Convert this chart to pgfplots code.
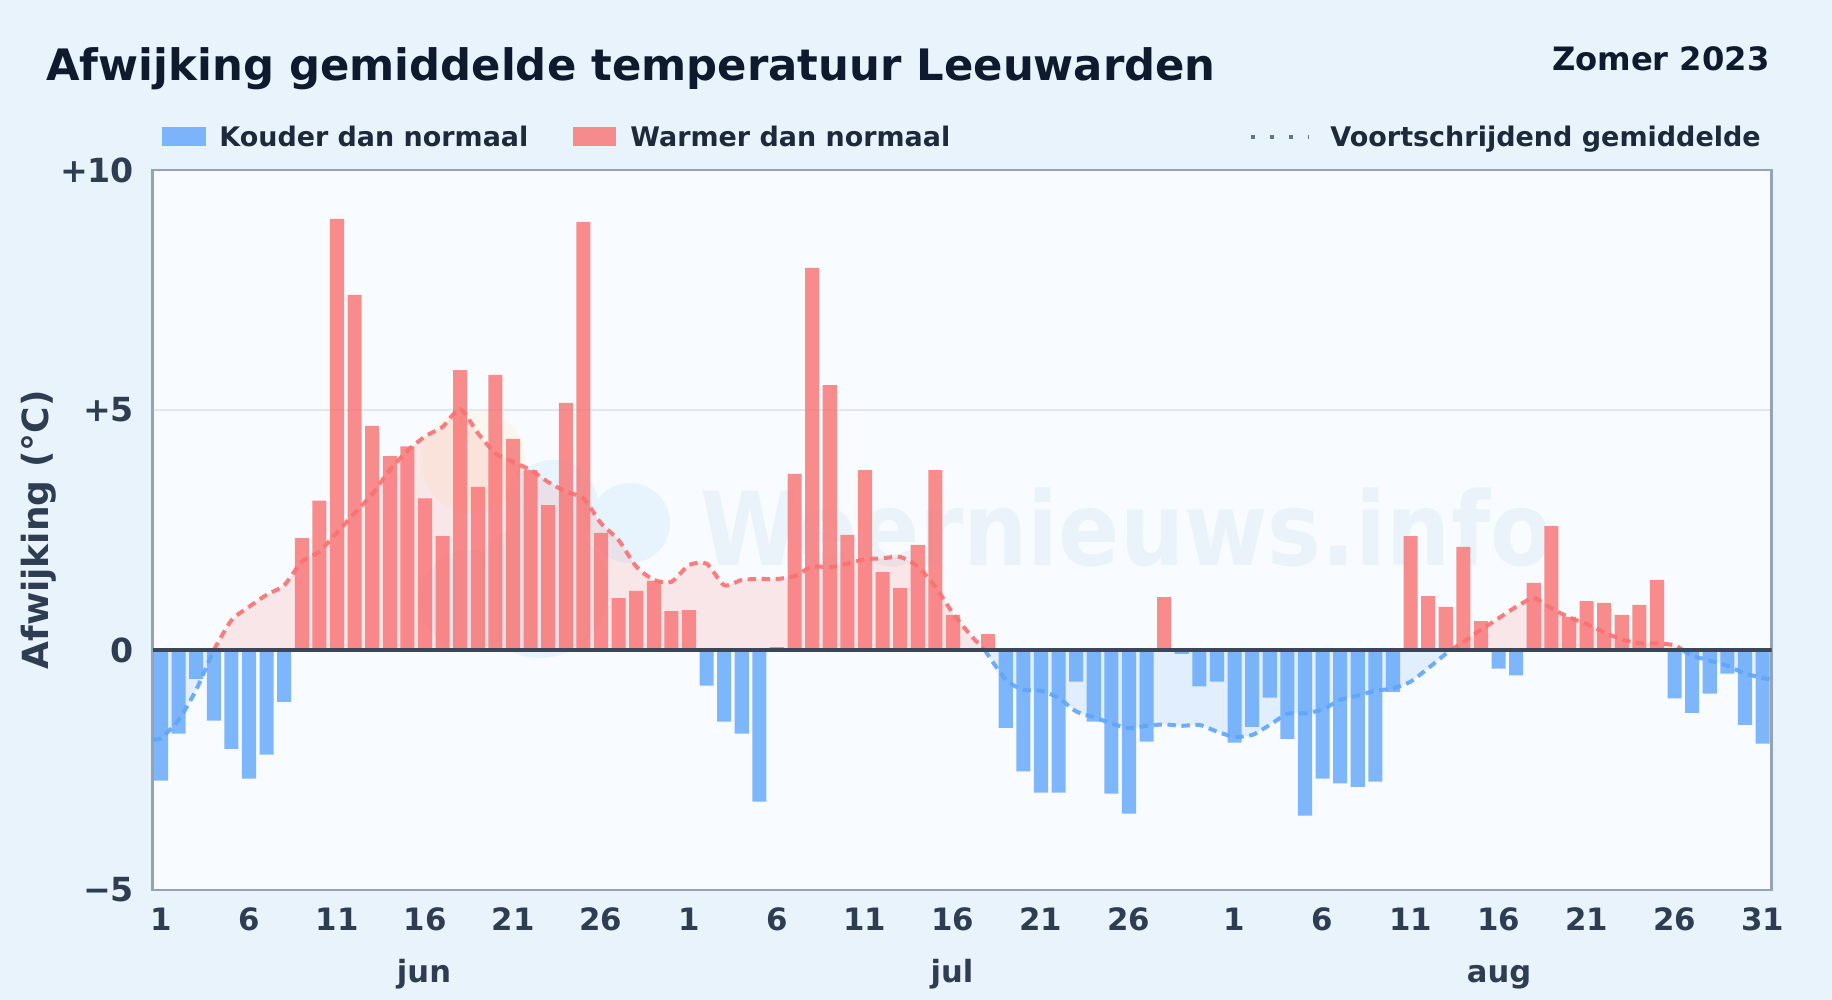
\documentclass[border=0pt]{standalone}
\usepackage{fontspec}
\setmainfont{DejaVu Sans}
\usepackage{pgfplots}
\usepackage{pgfplotstable}
\pgfplotsset{compat=1.18}

\definecolor{pagebg}{HTML}{E9F3FC}
\definecolor{plotbg}{HTML}{F8FBFF}
\definecolor{ink}{HTML}{0F1A2E}
\definecolor{label}{HTML}{2F3D52}
\definecolor{legendink}{HTML}{1E293B}
\definecolor{frame}{HTML}{94A3B8}
\definecolor{gridc}{HTML}{E2E8F0}
\definecolor{zeroline}{HTML}{3B4658}
\definecolor{warm}{HTML}{F87171}
\definecolor{cold}{HTML}{60A5FA}
\definecolor{dots}{HTML}{64748B}
\definecolor{wmsun}{HTML}{FAF8EE}
\definecolor{wmcloud}{HTML}{E8F4FD}
\definecolor{wmtext}{HTML}{EBF3FA}

% daily anomaly, x = day counted from 1 june
\pgfplotstableread{
x y
1 -2.72
2 -1.74
3 -0.60
4 -1.47
5 -2.06
6 -2.68
7 -2.18
8 -1.08
32 -0.74
33 -1.49
34 -1.74
35 -3.16
49 -1.62
50 -2.53
51 -2.97
52 -2.97
53 -0.66
54 -1.49
55 -2.99
56 -3.41
57 -1.91
59 -0.08
60 -0.76
61 -0.66
62 -1.93
63 -1.60
64 -0.99
65 -1.85
66 -3.45
67 -2.68
68 -2.78
69 -2.85
70 -2.74
71 -0.87
77 -0.39
78 -0.53
87 -1.01
88 -1.31
89 -0.91
90 -0.49
91 -1.56
92 -1.95
}\coldbars
\pgfplotstableread{
x y
9 2.33
10 3.11
11 8.98
12 7.40
13 4.67
14 4.04
15 4.24
16 3.16
17 2.37
18 5.83
19 3.40
20 5.73
21 4.40
22 3.75
23 3.02
24 5.15
25 8.92
26 2.44
27 1.08
28 1.23
29 1.44
30 0.81
31 0.83
36 0.06
37 3.67
38 7.96
39 5.52
40 2.40
41 3.75
42 1.62
43 1.29
44 2.19
45 3.75
46 0.73
48 0.33
58 1.10
72 2.37
73 1.12
74 0.90
75 2.15
76 0.60
79 1.40
80 2.58
81 0.69
82 1.02
83 0.98
84 0.73
85 0.94
86 1.46
}\warmbars

% moving average, cut at the zero crossings
\pgfplotstableread{
x y
0.55 -1.86
1 -1.84
2 -1.46
3 -0.83
4 0
}\avgA
\pgfplotstableread{
x y
4 0
5 0.62
6 0.90
7 1.15
8 1.35
9 1.84
10 2.05
11 2.45
12 2.85
13 3.25
14 3.75
15 4.15
16 4.45
17 4.65
18 5.02
19 4.52
20 4.10
21 3.92
22 3.75
23 3.50
24 3.30
25 3.16
26 2.64
27 2.29
28 1.74
29 1.46
30 1.42
31 1.77
32 1.80
33 1.35
34 1.46
35 1.48
36 1.48
37 1.54
38 1.74
39 1.72
40 1.80
41 1.89
42 1.91
43 1.94
44 1.74
45 1.32
46 0.76
47 0.31
47.8 0
}\avgB
\pgfplotstableread{
x y
47.8 0
49 -0.62
50 -0.83
51 -0.85
52 -1.00
53 -1.28
54 -1.40
55 -1.53
56 -1.63
57 -1.58
58 -1.55
59 -1.58
60 -1.56
61 -1.70
62 -1.81
63 -1.77
64 -1.56
65 -1.33
66 -1.32
67 -1.24
68 -1.04
69 -0.95
70 -0.85
71 -0.80
72 -0.66
73 -0.38
74 -0.08
74.3 0
}\avgC
\pgfplotstableread{
x y
74.3 0
75 0.17
76 0.42
77 0.66
78 0.90
79 1.08
80 0.87
81 0.68
82 0.54
83 0.37
84 0.22
85 0.14
86 0.14
87 0.10
87.45 0
}\avgD
\pgfplotstableread{
x y
87.45 0
88 -0.12
89 -0.22
90 -0.33
91 -0.49
92 -0.58
92.5 -0.62
}\avgE

\pgfplotsset{
  avgline/.style={smooth, tension=0.4, line width=2pt, dash pattern=on 4.2pt off 2.8pt, opacity=0.9, forget plot},
  avgfill/.style={smooth, tension=0.4, draw=none, fill opacity=0.15, forget plot},
  daybar/.style={ybar, bar width=0.8, bar shift=0pt, draw=none, fill opacity=0.8, forget plot},
}

\begin{document}
\begin{tikzpicture}[x=0.5pt, y=-0.5pt]
\fill[pagebg] (0,0) rectangle (1832,1000);
\fill[plotbg] (152.8,170) rectangle (1771.7,890);

% watermark behind the bars
\fill[wmsun] (473,461) circle (52);
\fill[wmcloud] (553,505) circle (45) (630,523) circle (40) (540,590) circle (68) (470,600) circle (50);
\node[anchor=base west, inner sep=0, text=wmtext, font=\fontsize{51}{51}\selectfont\bfseries] at (700,565) {\scalebox{0.885}[1]{Weernieuws.info}};

\node[anchor=base west, inner sep=0, text=ink, font=\fontsize{21.67}{24}\selectfont\bfseries] at (46,81) {Afwijking gemiddelde temperatuur Leeuwarden};
\node[anchor=base east, inner sep=0, text=ink, font=\fontsize{16.1}{18}\selectfont\bfseries] at (1770,71) {Zomer 2023};

% legend
\fill[cold, opacity=0.8] (162,127) rectangle (206,146);
\node[anchor=base west, inner sep=0, text=legendink, font=\fontsize{13.47}{16}\selectfont\bfseries] at (219,146.5) {Kouder dan normaal};
\fill[warm, opacity=0.8] (573,127) rectangle (616,146);
\node[anchor=base west, inner sep=0, text=legendink, font=\fontsize{13.47}{16}\selectfont\bfseries] at (630,146.5) {Warmer dan normaal};
\draw[dots, line width=2pt, dash pattern=on 2pt off 7.5pt] (1251,137) -- (1309,137);
\node[anchor=base west, inner sep=0, text=legendink, font=\fontsize{13.5}{16}\selectfont\bfseries] at (1330,146.5) {Voortschrijdend gemiddelde};

% month names
\node[anchor=base, inner sep=0, text=label, font=\fontsize{15.3}{17}\selectfont\bfseries] at (424,982) {jun};
\node[anchor=base, inner sep=0, text=label, font=\fontsize{15.3}{17}\selectfont\bfseries] at (952,982) {jul};
\node[anchor=base, inner sep=0, text=label, font=\fontsize{15.3}{17}\selectfont\bfseries] at (1499,982) {aug};

\begin{axis}[
    at={(76.4pt,-445pt)}, anchor=south west,
    scale only axis, width=809.45pt, height=360pt,
    xmin=0.534, xmax=92.52, ymin=-5, ymax=10,
    axis line style={frame, line width=1.4pt},
    major tick length=0pt,
    xtick={1,6,11,16,21,26,31,36,41,46,51,56,62,67,72,77,82,87,92},
    xticklabels={1,6,11,16,21,26,1,6,11,16,21,26,1,6,11,16,21,26,31},
    ytick={-5,0,5,10},
    yticklabels={−5,0,+5,+10},
    ymajorgrids, grid style={gridc, line width=0.9pt},
    xticklabel style={text=label, font=\fontsize{15.4}{17}\selectfont\bfseries, yshift=-5.5pt},
    yticklabel style={text=label, font=\fontsize{16.6}{17}\selectfont\bfseries, xshift=-5.85pt},
    ylabel={Afwijking (°C)},
    every axis y label/.style={at={(rel axis cs:0,0.5)}, xshift=-56.9pt, rotate=90, anchor=center, text=label, font=\fontsize{18}{20}\selectfont\bfseries},
]
\addplot[avgfill, fill=cold] table {\avgA} \closedcycle;
\addplot[avgfill, fill=warm] table {\avgB} \closedcycle;
\addplot[avgfill, fill=cold] table {\avgC} \closedcycle;
\addplot[avgfill, fill=warm] table {\avgD} \closedcycle;
\addplot[avgfill, fill=cold] table {\avgE} \closedcycle;

\addplot[daybar, fill=cold] table {\coldbars};
\addplot[daybar, fill=warm] table {\warmbars};

\addplot[avgline, cold] table {\avgA};
\addplot[avgline, warm] table {\avgB};
\addplot[avgline, cold] table {\avgC};
\addplot[avgline, warm] table {\avgD};
\addplot[avgline, cold] table {\avgE};

\addplot[zeroline, line width=2pt, forget plot] coordinates {(0.534,0) (92.52,0)};
\end{axis}
\end{tikzpicture}
\end{document}
